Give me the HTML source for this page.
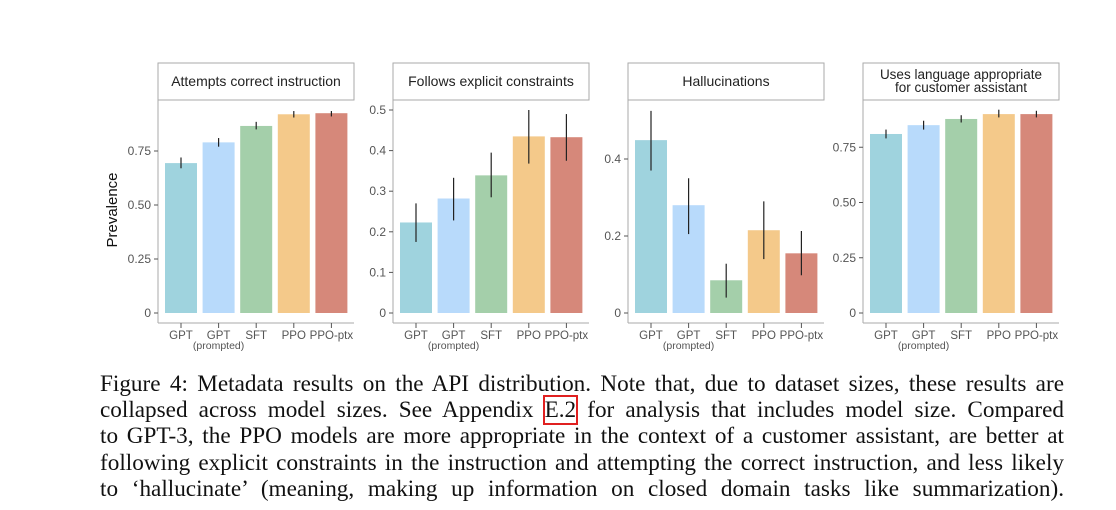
<!DOCTYPE html>
<html><head><meta charset="utf-8"><style>
body{margin:0;background:#fff;width:1116px;height:510px;overflow:hidden;position:relative}
svg{position:absolute;left:0;top:0}
.cap{position:absolute;left:100px;width:964px;font-family:"Liberation Serif",serif;font-size:23.2px;color:#111;text-align:justify;text-align-last:justify;white-space:nowrap;line-height:26px}
.ref{outline:2px solid #e02020;outline-offset:0px}
</style></head><body>
<svg id="chart" width="1116" height="370"></svg>
<div class="cap" style="top:371px">Figure 4: Metadata results on the API distribution. Note that, due to dataset sizes, these results are</div>
<div class="cap" style="top:397px">collapsed across model sizes. See Appendix <span class="ref">E.2</span> for analysis that includes model size. Compared</div>
<div class="cap" style="top:423px">to GPT-3, the PPO models are more appropriate in the context of a customer assistant, are better at</div>
<div class="cap" style="top:450px">following explicit constraints in the instruction and attempting the correct instruction, and less likely</div>
<div class="cap" style="top:476px">to ‘hallucinate’ (meaning, making up information on closed domain tasks like summarization).</div>
<script>
const categories=["GPT","GPT","SFT","PPO","PPO-ptx"];
const colors=["#9fd3de","#b8dafb","#a4cfaa","#f4c98a","#d6887a"];
const titles=[["Attempts correct instruction"],["Follows explicit constraints"],["Hallucinations"],["Uses language appropriate","for customer assistant"]];
const attemptsVals=[0.694,0.79,0.866,0.92,0.925];
const attemptsLo=[0.67,0.77,0.85,0.905,0.91];
const attemptsHi=[0.72,0.81,0.885,0.935,0.935];
const followsVals=[0.223,0.282,0.339,0.435,0.433];
const followsLo=[0.175,0.228,0.285,0.368,0.375];
const followsHi=[0.27,0.333,0.395,0.5,0.49];
const halluVals=[0.449,0.28,0.085,0.215,0.155];
const halluLo=[0.37,0.205,0.04,0.14,0.098];
const halluHi=[0.525,0.35,0.128,0.29,0.213];
const langVals=[0.81,0.85,0.878,0.90,0.90];
const langLo=[0.79,0.83,0.862,0.885,0.885];
const langHi=[0.83,0.87,0.895,0.92,0.915];
const ticks1=[0,0.25,0.5,0.75], tickLab1=["0","0.25","0.50","0.75"];
const ticks2=[0,0.1,0.2,0.3,0.4,0.5], tickLab2=["0","0.1","0.2","0.3","0.4","0.5"];
const ticks3=[0,0.2,0.4], tickLab3=["0","0.2","0.4"];
const panels=[
 {x:158,scale:216,v:attemptsVals,lo:attemptsLo,hi:attemptsHi,t:ticks1,tl:tickLab1,name:"attempts"},
 {x:393,scale:406,v:followsVals,lo:followsLo,hi:followsHi,t:ticks2,tl:tickLab2,name:"follows"},
 {x:628,scale:385,v:halluVals,lo:halluLo,hi:halluHi,t:ticks3,tl:tickLab3,name:"hallucinations"},
 {x:863,scale:221,v:langVals,lo:langLo,hi:langHi,t:ticks1,tl:tickLab1,name:"language"}];
const svg=document.getElementById('chart');const NS="http://www.w3.org/2000/svg";
function mk(tag,a,parent){const e=document.createElementNS(NS,tag);for(const k in a)e.setAttribute(k,a[k]);(parent||svg).appendChild(e);return e;}
const W=196,Y0=313,font='"Liberation Sans",Arial,sans-serif';
panels.forEach((p,pi)=>{
 const g=mk('g',{});
 
 
 const yS=v=>Y0-v*p.scale;
 const xS=i=>p.x+23+i*37.6;
 const strip=mk('rect',{x:p.x,y:63,width:W,height:37,fill:'#fff',stroke:'#aaa','stroke-width':1},g);
 
 
 titles[pi].forEach((t,li)=>{const n=titles[pi].length;
  const tx=mk('text',{x:p.x+W/2,y:(n==1?86:79)+li*13,'text-anchor':'middle','font-family':font,'font-size':n==1?14:13.5,fill:'#222'},g);tx.textContent=t;
  
  });
 mk('line',{x1:p.x,y1:100,x2:p.x,y2:323,stroke:'#aaa'},g);
 mk('line',{x1:p.x,y1:323,x2:p.x+W,y2:323,stroke:'#aaa'},g);
 p.t.forEach((t,i)=>{mk('line',{x1:p.x-4,y1:yS(t),x2:p.x,y2:yS(t),stroke:'#555'},g);
  const tl=mk('text',{x:p.x-7,y:yS(t)+4,'text-anchor':'end','font-family':font,'font-size':12,fill:'#555'},g);tl.textContent=p.tl[i];
  
  });
 p.v.forEach((v,i)=>{const cx=xS(i);
  const b=mk('rect',{x:cx-16,y:yS(v),width:32,height:Y0-yS(v),fill:colors[i]},g);
  
  
  const e=mk('line',{x1:cx,y1:yS(p.hi[i]),x2:cx,y2:yS(p.lo[i]),stroke:'#222','stroke-width':1.2},g);
  
  
  mk('line',{x1:cx,y1:323,x2:cx,y2:328,stroke:'#555'},g);
  const xl=mk('text',{x:cx,y:339,'text-anchor':'middle','font-family':font,'font-size':11.5,fill:'#555'},g);xl.textContent=categories[i];
  
  
  if(i==1){const s=mk('text',{x:cx,y:349,'text-anchor':'middle','font-family':font,'font-size':10.5,fill:'#555'},g);s.textContent='(prompted)';
   
   }
 });
});
const yl=mk('text',{x:0,y:0,transform:'translate(117,210) rotate(-90)','text-anchor':'middle','font-family':font,'font-size':15,fill:'#111'});
yl.textContent='Prevalence';


</script>
</body></html>
